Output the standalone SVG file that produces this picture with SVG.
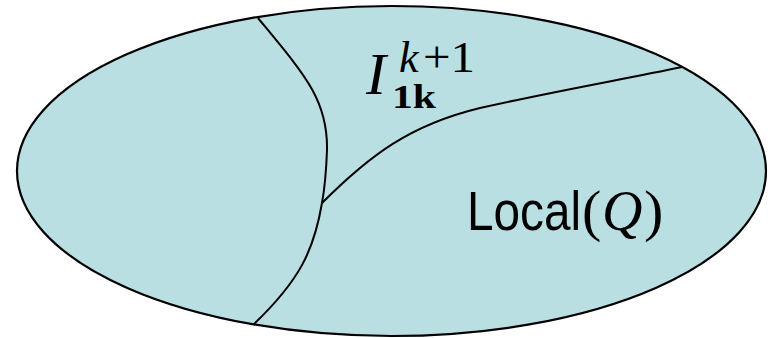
<svg xmlns="http://www.w3.org/2000/svg" width="768" height="338" viewBox="0 0 768 338">
<style>
.ln{fill:none;stroke:#000;stroke-width:2}
.it{font-family:"Liberation Serif",serif;font-style:italic}
.rm{font-family:"Liberation Serif",serif;font-style:normal}
.sf{font-family:"Liberation Sans",sans-serif}
</style>
<rect width="768" height="338" fill="#fff"/>
<g id="region">
<ellipse cx="391.5" cy="171" rx="374.5" ry="165" fill="#badfe3" stroke="#000" stroke-width="2.2"/>
</g>
<g id="connectors">
<path class="ln" d="M258,18 C305,75 328,100 327,150 C326,178 324,192 322,203 C314,250 300,280 254,324"/>
<path class="ln" d="M322,203 C370,155 410,125 480,108 C560,90 620,80 682,67"/>
</g>
<g id="label-I">
<text class="it" x="366" y="94" font-size="60">I</text>
<text class="it" x="399" y="72" font-size="44">k</text>
<text class="rm" x="423" y="72" font-size="44" textLength="52" lengthAdjust="spacingAndGlyphs">+1</text>
<text class="rm" x="392" y="108" font-size="34" font-weight="bold" textLength="44" lengthAdjust="spacingAndGlyphs">1k</text>
</g>
<g id="label-local">
<text y="230" font-size="56"><tspan class="sf" x="467" font-size="55" textLength="114" lengthAdjust="spacingAndGlyphs">Local</tspan><tspan class="rm" x="582" font-size="58">(</tspan><tspan class="it" x="602">Q</tspan><tspan class="rm" x="644" font-size="58">)</tspan></text>
</g>
</svg>
